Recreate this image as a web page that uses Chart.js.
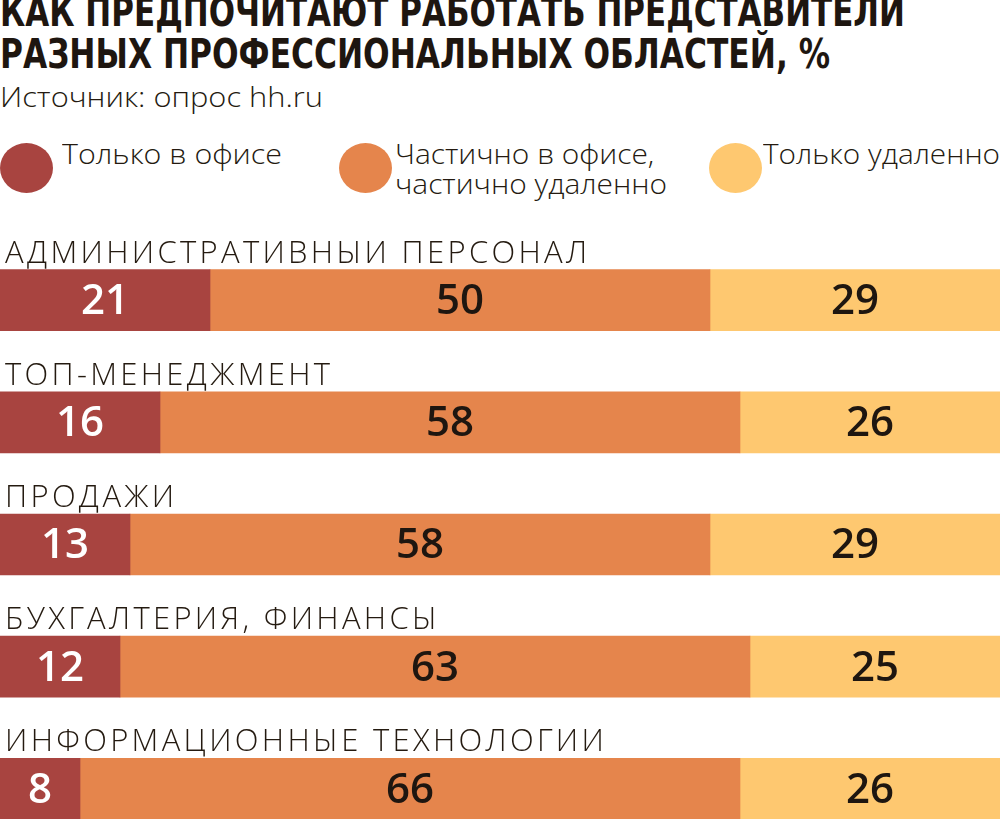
<!DOCTYPE html>
<html lang="ru">
<head>
<meta charset="utf-8">
<script src="https://cdn.jsdelivr.net/npm/chart.js@4/dist/chart.umd.min.js"></script>
<style>
  html, body { margin: 0; padding: 0; background: #fff; }
  body { width: 1000px; height: 819px; overflow: hidden; position: relative; color: #241a10; }
  .title { position: absolute; left: 0; font-family: "DejaVu Sans Condensed", "Liberation Sans Narrow", "Roboto Condensed", "DejaVu Sans", sans-serif; font-weight: bold; font-size: 40px; line-height: 40px; white-space: nowrap; transform-origin: 0 0; color: #1e1610; }
  .source { position: absolute; left: 0; top: 80px; font-family: "Open Sans", "Noto Sans", sans-serif; font-weight: 300; font-size: 27px; line-height: 34px; white-space: nowrap; transform-origin: 0 0; }
  .dot { position: absolute; width: 53px; height: 50px; border-radius: 50%; top: 143px; }
  .leg { position: absolute; top: 139px; font-family: "Open Sans", "Noto Sans", sans-serif; font-weight: 300; font-size: 27px; line-height: 30px; white-space: nowrap; transform-origin: 0 0; }
  #wrap { position: absolute; left: 0; top: 239px; width: 1000px; height: 611px; }
</style>
</head>
<body>
<div class="title" id="t1" style="top:-8px">КАК ПРЕДПОЧИТАЮТ РАБОТАТЬ ПРЕДСТАВИТЕЛИ</div>
<div class="title" id="t2" style="top:34px">РАЗНЫХ ПРОФЕССИОНАЛЬНЫХ ОБЛАСТЕЙ, %</div>
<div class="source" id="src">Источник: опрос hh.ru</div>

<div class="dot" style="left:0;background:#a84440"></div>
<div class="leg" id="l1" style="left:62px">Только в офисе</div>
<div class="dot" style="left:339px;background:#e5854c"></div>
<div class="leg" id="l2" style="left:395px">Частично в офисе,<br>частично удаленно</div>
<div class="dot" style="left:709px;background:#fec870"></div>
<div class="leg" id="l3" style="left:763px">Только удаленно</div>

<div id="wrap"><canvas id="chart"></canvas></div>

<script>
const categories = [
    'АДМИНИСТРАТИВНЫЙ ПЕРСОНАЛ',
    'ТОП-МЕНЕДЖМЕНТ',
    'ПРОДАЖИ',
    'БУХГАЛТЕРИЯ, ФИНАНСЫ',
    'ИНФОРМАЦИОННЫЕ ТЕХНОЛОГИИ'
];
const seriesNames = ['Только в офисе', 'Частично в офисе, частично удаленно', 'Только удаленно'];
const officeOnly = [21, 16, 13, 12, 8];
const hybrid = [50, 58, 58, 63, 66];
const remoteOnly = [29, 26, 29, 25, 26];

const colors = ['#a84440', '#e5854c', '#fec870'];
const valueColors = ['#ffffff', '#1e1610', '#1e1610'];

// squeeze html text into the width it has in the picture
function fitWidth(id, w) {
    const el = document.getElementById(id);
    const real = el.getBoundingClientRect().width;
    el.style.transform = 'scaleX(' + (w / real) + ')';
}
fitWidth('t1', 905);
fitWidth('t2', 830);
fitWidth('src', 323);
fitWidth('l1', 220);
fitWidth('l2', 272);
fitWidth('l3', 237);

const labelsPlugin = {
    id: 'barLabels',
    afterDatasetsDraw(chart) {
        const ctx = chart.ctx;
        ctx.save();
        // values inside segments
        chart.data.datasets.forEach((ds, di) => {
            const meta = chart.getDatasetMeta(di);
            meta.data.forEach((bar, i) => {
                ctx.fillStyle = valueColors[di];
                ctx.font = '600 42px "Open Sans", "Noto Sans", sans-serif';
                ctx.textAlign = 'center';
                ctx.textBaseline = 'middle';
                ctx.fillText(ds.data[i], (bar.x + bar.base) / 2, bar.y + 2);
            });
        });
        // category names above bars, spaced out like the original
        const meta0 = chart.getDatasetMeta(0);
        ctx.font = '300 31px "Open Sans", "Noto Sans", sans-serif';
        ctx.textAlign = 'left';
        ctx.textBaseline = 'alphabetic';
        ctx.fillStyle = '#241a10';
        const hasSpacing = 'letterSpacing' in ctx;
        if (hasSpacing) ctx.letterSpacing = '3.3px';
        meta0.data.forEach((bar, i) => {
            const y = bar.y - bar.height / 2 - 7;
            if (hasSpacing) {
                ctx.fillText(categories[i], 5, y);
            } else {
                ctx.save();
                ctx.translate(5, y);
                ctx.scale(1.16, 1);
                ctx.fillText(categories[i], 0, 0);
                ctx.restore();
            }
        });
        ctx.restore();
    }
};

new Chart(document.getElementById('chart'), {
    type: 'bar',
    data: {
        labels: categories,
        datasets: [officeOnly, hybrid, remoteOnly].map((d, i) => ({
            label: seriesNames[i],
            data: d,
            backgroundColor: colors[i],
            borderWidth: 0,
            barThickness: 61
        }))
    },
    options: {
        indexAxis: 'y',
        responsive: true,
        maintainAspectRatio: false,
        animation: false,
        layout: { padding: 0 },
        plugins: { legend: { display: false }, tooltip: { enabled: false } },
        scales: {
            x: { stacked: true, min: 0, max: 100, display: false },
            y: { stacked: true, display: false }
        }
    },
    plugins: [labelsPlugin]
});
</script>
</body>
</html>
